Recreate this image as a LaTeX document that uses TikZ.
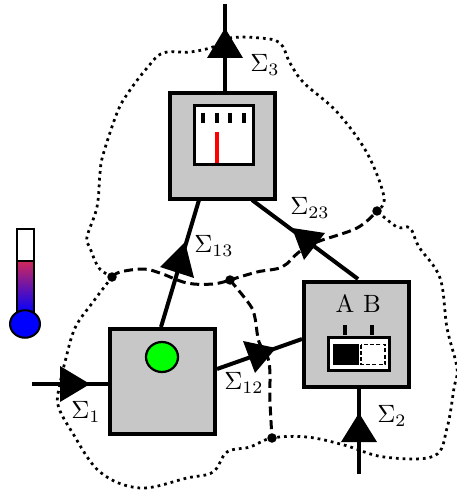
\documentclass[tikz,border=0pt]{standalone}
\usetikzlibrary{shapes.geometric}
\definecolor{hotend}{RGB}{208,40,90}
\definecolor{midend}{RGB}{105,70,180}
\begin{document}
\begin{tikzpicture}[x=0.4pt,y=-0.4pt,
  sysbox/.style={draw=black,fill=black!22,line width=1.6pt,minimum width=42pt,minimum height=42pt,inner sep=0pt},
  wire/.style={line width=1.6pt,line cap=butt},
  head/.style={fill=black},
  junction/.style={circle,fill=black,inner sep=0pt,minimum size=3.8pt},
  outer/.style={line width=1.1pt,dash pattern=on 1.1pt off 1.6pt},
  inner/.style={line width=1.2pt,dash pattern=on 3.6pt off 1.9pt},
  tick/.style={line width=1.4pt},
  lab/.style={inner sep=0pt}]
\useasboundingbox (0,0) rectangle (457,492);
% free ends and junctions
\coordinate (topend) at (225,4);
\coordinate (leftend) at (32,384);
\coordinate (botend) at (359,474);
\node[junction] (ja) at (112,277) {};
\node[junction] (jb) at (230,280) {};
\node[junction] (jc) at (377,211) {};
\node[junction] (jd) at (272,438) {};
% boundaries
\draw[outer] plot[smooth,tension=0.6] coordinates {(ja) (99,268) (90,248) (87,237) (97,207) (100,173) (103,155) (117,113) (128,93) (147,68) (163,53) (190,52) (213,47) (230,38) (260,38) (280,43) (290,63) (304,83) (337,112) (367,153) (384,197) (jc)};
\draw[outer] plot[smooth,tension=0.6] coordinates {(ja) (93,302) (75,328) (65,362) (60,384) (58,405) (72,432) (100,472) (140,488) (187,478) (213,472) (227,452) (250,447) (jd) (307,437) (344,445) (384,457) (434,456) (447,428) (454,388) (457,368) (447,328) (440,278) (419,247) (410,228) (397,227) (jc)};
\draw[inner] plot[smooth,tension=0.6] coordinates {(ja) (120,272) (143,269) (160,273) (187,283) (213,284) (jb)};
\draw[inner] plot[smooth,tension=0.6] coordinates {(jb) (257,272) (282,267) (299,252) (317,242) (357,228) (jc)};
\draw[inner] plot[smooth,tension=0.6] coordinates {(jb) (250,305) (255,318) (259,342) (269,362) (270,402) (jd)};
% blocks
\coordinate (m1) at (161,327);
\coordinate (m2) at (199,200);
\coordinate (m3) at (252,200);
\coordinate (s1) at (358,279);
\coordinate (s2) at (302,339);
\coordinate (l1) at (217,369);
\draw[wire] (topend) -- (225,92);
\draw[wire] (leftend) -- (108,384);
\draw[wire] (botend) -- (359,389);
\draw[wire] (m1) -- (m2);
\draw[wire] (m3) -- (s1);
\draw[wire] (l1) -- (s2);
\node[sysbox] (meter) at (222.5,146) {};
\node[sysbox] (plant) at (162.5,381.5) {};
\node[sysbox] (switchbox) at (356.5,334) {};
% arrowheads
\fill[head] (225,28) -- (243,58) -- (207,58) -- cycle;
\fill[head] (90,384) -- (60,366) -- (60,402) -- cycle;
\fill[head] (359,413) -- (377,442) -- (341,442) -- cycle;
\fill[head] (185,242) -- (194,278) -- (160,267) -- cycle;
\fill[head] (276,348) -- (243,341) -- (255,373) -- cycle;
\fill[head] (292,228) -- (325,233) -- (304,260) -- cycle;
% meter
\node[draw=black,fill=white,line width=1.2pt,minimum width=23.5pt,minimum height=23.5pt,inner sep=0pt] (dial) at (224,135) {};
\foreach \x in {203,217,230,244} \draw[tick] (\x,113) -- (\x,123);
\draw[red,line width=1.6pt] (216.5,132) -- (216.5,163);
% lamp
\node[draw=black,fill=green,line width=0.9pt,ellipse,minimum width=12.8pt,minimum height=12pt,inner sep=0pt] (lamp) at (162,357) {};
% switch
\node[lab] (labA) at (345,304) {A};
\node[lab] (labB) at (372,304) {B};
\draw[tick] (345,325) -- (345,335);
\draw[tick] (372,325) -- (372,335);
\node[draw=black,fill=white,line width=0.9pt,minimum width=24.4pt,minimum height=13.2pt,inner sep=0pt] (toggle) at (359,354) {};
\fill[black] (333,344) rectangle (359,365);
\draw[line width=0.7pt,dash pattern=on 1.6pt off 0.9pt] (361,344.5) rectangle (385,364.5);
% thermometer
\draw[line width=0.8pt,fill=white] (17,229) rectangle (34,261);
\shade[top color=hotend,middle color=midend,bottom color=blue,draw=black,line width=0.8pt] (17,261) rectangle (34,313);
\node[draw=black,fill=blue,line width=0.8pt,ellipse,minimum width=12pt,minimum height=11pt,inner sep=0pt] (bulb) at (25,324) {};
% labels
\node[lab] (s3) at (265,65) {$\Sigma_3$};
\node[lab] (s23) at (310,208) {$\Sigma_{23}$};
\node[lab] (s13) at (214,246) {$\Sigma_{13}$};
\node[lab] (s1l) at (86,412) {$\Sigma_1$};
\node[lab] (s12) at (244,383) {$\Sigma_{12}$};
\node[lab] (s2l) at (392,416) {$\Sigma_2$};
\end{tikzpicture}
\end{document}
